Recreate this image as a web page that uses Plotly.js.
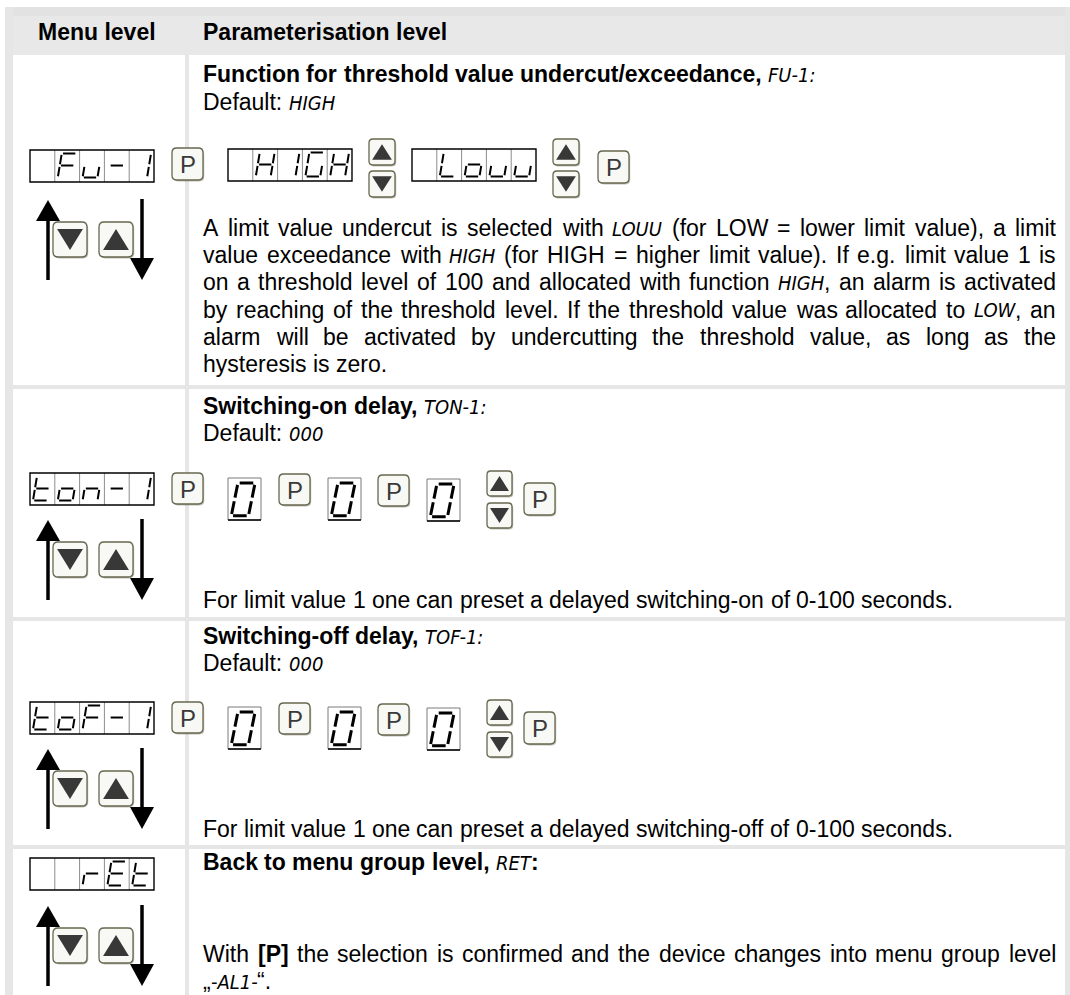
<!DOCTYPE html>
<html><head><meta charset="utf-8">
<script src="https://cdn.plot.ly/plotly-3.0.1.min.js"></script>
<style>html,body{margin:0;padding:0;background:#fff;overflow:hidden;} #chart{width:1070px;height:995px;}</style>
</head><body><div id="chart"></div>
<script>
// ---------------- content ----------------
const headerLabels = ['Menu level', 'Parameterisation level'];
const rowTitles = [
  '**Function for threshold value undercut/exceedance,** {FU-1:}',
  '**Switching-on delay,** {TON-1:}',
  '**Switching-off delay,** {TOF-1:}',
  '**Back to menu group level,** {RET}**:**'
];
const rowDefaults = ['Default: {HIGH}', 'Default: {000}', 'Default: {000}', null];
const menuDisplays = [
  [' ', 'F', 'u', '-', '1'],
  ['t', 'o', 'n', '-', '1'],
  ['t', 'o', 'F', '-', '1'],
  [' ', ' ', 'r', 'E', 't']
];
const row1ParamDisplays = [[' ', 'H', 'I', 'G', 'H'], [' ', 'L', 'o', 'u', 'u']];
const delayDigits = ['0', '0', '0'];
const row1Body = [
  'A limit value undercut is selected with {LOUU} (for LOW = lower limit value), a limit',
  'value exceedance with {HIGH} (for HIGH = higher limit value). If e.g. limit value 1 is',
  'on a threshold level of 100 and allocated with function {HIGH}, an alarm is activated',
  'by reaching of the threshold level. If the threshold value was allocated to {LOW}, an',
  'alarm will be activated by undercutting the threshold value, as long as the',
  'hysteresis is zero.'
];
const row2Body = ['For limit value 1 one can preset a delayed switching-on of 0-100 seconds.'];
const row3Body = ['For limit value 1 one can preset a delayed switching-off of 0-100 seconds.'];
const row4Body = [
  'With **[P]** the selection is confirmed and the device changes into menu group level',
  '„{-AL1-}“.'
];

// ---------------- styling / helpers ----------------
const REG_FAMILY = '"Liberation Sans", Arial, Helvetica, sans-serif';
const SEG_FAMILY = '"Liberation Sans Narrow", "DejaVu Sans Condensed", "Liberation Sans", sans-serif';
const FS = 23, SEG_FS = 20;
const TEXT_COLOR = '#000';
const GRAY = '#e6e6e6';
const shapes = [], annotations = [];
const ctx = document.createElement('canvas').getContext('2d');

function fontFor(style) {
  if (style === 'seg') return `italic ${SEG_FS}px ${SEG_FAMILY}`;
  if (style === 'bold') return `bold ${FS}px ${REG_FAMILY}`;
  return `${FS}px ${REG_FAMILY}`;
}
function measure(t, style) { ctx.font = fontFor(style); return ctx.measureText(t).width; }
function parseRuns(line) {
  const runs = []; const re = /\*\*(.+?)\*\*|\{(.+?)\}|([^*{]+)/g; let m;
  while ((m = re.exec(line))) {
    if (m[1] !== undefined) runs.push({s: 'bold', t: m[1]});
    else if (m[2] !== undefined) runs.push({s: 'seg', t: m[2]});
    else runs.push({s: 'reg', t: m[3]});
  }
  return runs;
}
function toWords(runs) {
  const words = []; let cur = [];
  runs.forEach(r => {
    r.t.split(' ').forEach((p, i) => {
      if (i > 0) { if (cur.length) words.push(cur); cur = []; }
      if (p.length) cur.push({s: r.s, t: p});
    });
  });
  if (cur.length) words.push(cur);
  return words;
}
function esc(t) { return t.replace(/&/g, '&amp;').replace(/</g, '&lt;').replace(/>/g, '&gt;'); }
function textAnn(p, x, y) {
  const seg = p.s === 'seg';
  annotations.push({
    x: x, y: seg ? y + 0.5 : y, xref: 'x', yref: 'y', xanchor: 'left', yanchor: 'middle',
    showarrow: false, borderpad: 0, borderwidth: 0,
    text: p.s === 'bold' ? '<b>' + esc(p.t) + '</b>' : seg ? '<i>' + esc(p.t) + '</i>' : esc(p.t),
    font: {family: seg ? SEG_FAMILY : REG_FAMILY, size: seg ? SEG_FS : FS, color: TEXT_COLOR}
  });
}
function placeLine(line, x0, y, justifyTo) {
  const words = toWords(parseRuns(line));
  const widths = words.map(w => w.reduce((a, p) => a + measure(p.t, p.s), 0));
  const total = widths.reduce((a, b) => a + b, 0);
  let gap = measure(' ', 'reg');
  if (justifyTo && words.length > 1) gap = (justifyTo - x0 - total) / (words.length - 1);
  let x = x0;
  words.forEach(w => {
    w.forEach(p => { textAnn(p, x, y); x += measure(p.t, p.s); });
    x += gap;
  });
}
function placeParagraph(lines, x0, y0, step, right) {
  lines.forEach((l, i) => placeLine(l, x0, y0 + i * step, i < lines.length - 1 ? right : null));
}
function f(n) { return n.toFixed(2); }
function rect(x0, y0, x1, y1, fill, lc, lw) {
  shapes.push({type: 'rect', xref: 'x', yref: 'y', x0, y0, x1, y1, fillcolor: fill || 'rgba(0,0,0,0)',
    line: {color: lc || 'rgba(0,0,0,0)', width: lw || 0}});
}
function seg(x0, y0, x1, y1, color, w) {
  shapes.push({type: 'line', xref: 'x', yref: 'y', x0, y0, x1, y1, line: {color, width: w}});
}
function path(d, fill, lc, lw) {
  shapes.push({type: 'path', xref: 'x', yref: 'y', path: d, fillcolor: fill || 'rgba(0,0,0,0)',
    line: {color: lc || 'rgba(0,0,0,0)', width: lw || 0}});
}
function rr(x, y, w, h, r) {
  return `M${f(x + r)},${f(y)} L${f(x + w - r)},${f(y)} Q${f(x + w)},${f(y)} ${f(x + w)},${f(y + r)} ` +
    `L${f(x + w)},${f(y + h - r)} Q${f(x + w)},${f(y + h)} ${f(x + w - r)},${f(y + h)} ` +
    `L${f(x + r)},${f(y + h)} Q${f(x)},${f(y + h)} ${f(x)},${f(y + h - r)} ` +
    `L${f(x)},${f(y + r)} Q${f(x)},${f(y)} ${f(x + r)},${f(y)} Z`;
}

// seven segment glyphs
const SEGMAP = {' ': '', 'F': 'afeg', 'u': 'cde', '-': 'g', '1': 'bc', 'H': 'bcefg', 'I': 'bc',
  'G': 'afedc', 'L': 'fed', 'o': 'cdeg', 't': 'defg', 'n': 'ceg', 'r': 'eg', 'E': 'adefg', '0': 'abcdef'};
const SMALL = {mx0: 0.12, mx1: 0.88, my0: 0.11, my1: 0.86, slant: 0.16, gap: 1.3, lw: 2};
const BIG = {mx0: 0.1, mx1: 0.82, my0: 0.12, my1: 0.9, slant: 0.2, gap: 1.8, lw: 3};
function glyph(cx, cy, cw, ch, c, g) {
  const segs = SEGMAP[c] || ''; if (!segs) return;
  const L = cx + g.mx0 * cw, R = cx + g.mx1 * cw, T = cy + g.my0 * ch, B = cy + g.my1 * ch, s = g.slant * cw;
  const P = (u, v) => [L + u * (R - L - s) + (1 - v) * s, T + v * (B - T)];
  const gu = g.gap / (R - L - s), gv = g.gap / (B - T);
  const def = {a: [[gu, 0], [1 - gu, 0]], b: [[1, gv], [1, 0.5 - gv]], c: [[1, 0.5 + gv], [1, 1 - gv]],
    d: [[gu, 1], [1 - gu, 1]], e: [[0, 0.5 + gv], [0, 1 - gv]], f: [[0, gv], [0, 0.5 - gv]], g: [[gu, 0.5], [1 - gu, 0.5]]};
  let d = '';
  for (const k of segs) {
    const A = P(...def[k][0]), Bq = P(...def[k][1]);
    d += `M${f(A[0])},${f(A[1])} L${f(Bq[0])},${f(Bq[1])} `;
  }
  path(d.trim(), null, '#000', g.lw);
}
function display5(x, y, chars) {
  const cw = 24.8, h = 32, w = cw * chars.length;
  rect(x, y, x + w, y + h, '#fff');
  for (let i = 1; i < chars.length; i++) seg(x + i * cw, y, x + i * cw, y + h, '#8c8c8c', 1);
  rect(x, y, x + w, y + h, null, '#000', 1.4);
  chars.forEach((c, i) => glyph(x + i * cw, y, cw, h, c, SMALL));
}
function bigDigit(x, y, c) {
  rect(x, y, x + 33, y + 42, '#fff', '#7a7a7a', 1);
  seg(x, y + 42, x + 33, y + 42, '#000', 1.3);
  glyph(x, y, 33, 42, c, BIG);
}
function button(x, y, w, h, kind) {
  const r = Math.min(w, h) * 0.15;
  path(rr(x + 1.2, y + 1.4, w, h, r), 'rgba(70,70,50,0.35)');
  path(rr(x, y, w, h, r), '#f8f8f4', '#67674f', 1.3);
  if (kind === 'P') {
    annotations.push({x: x + w / 2, y: y + h / 2 + 0.5, xref: 'x', yref: 'y', text: 'P', showarrow: false,
      xanchor: 'center', yanchor: 'middle', borderpad: 0, borderwidth: 0,
      font: {family: REG_FAMILY, size: 24, color: '#3a3a3a'}});
  } else if (kind === 'up') {
    path(`M${f(x + w / 2)},${f(y + 0.2 * h)} L${f(x + 0.88 * w)},${f(y + 0.8 * h)} L${f(x + 0.12 * w)},${f(y + 0.8 * h)} Z`, '#383838');
  } else {
    path(`M${f(x + 0.12 * w)},${f(y + 0.2 * h)} L${f(x + 0.88 * w)},${f(y + 0.2 * h)} L${f(x + w / 2)},${f(y + 0.8 * h)} Z`, '#383838');
  }
}
function updown(x, yUp, yDown, s) { button(x, yUp, s, s, 'up'); button(x, yDown, s, s, 'down'); }
function arrowGroup(T) {
  path(`M48,${T} L60,${T + 21} L36,${T + 21} Z`, '#000');
  seg(48, T + 19, 48, T + 80, '#000', 3.5);
  seg(142, T - 1, 142, T + 60, '#000', 3.5);
  path(`M130,${T + 58} L154,${T + 58} L142,${T + 80} Z`, '#000');
  button(53, T + 22, 34, 35, 'down');
  button(99, T + 22, 34, 35, 'up');
}

// ---------------- table frame ----------------
rect(5, 7, 1070, 16, '#e2e2e2');
rect(5, 16, 1070, 55, '#e8e8e8');
rect(5, 7, 13, 995, GRAY);
rect(1065, 7, 1070, 995, GRAY);
rect(185, 55, 189, 995, GRAY);
rect(5, 385, 1070, 389, GRAY);
rect(5, 617, 1070, 621, GRAY);
rect(5, 845, 1070, 849, GRAY);

// ---------------- header ----------------
annotations.push({x: 97, y: 32, xref: 'x', yref: 'y', xanchor: 'center', yanchor: 'middle', showarrow: false,
  borderpad: 0, borderwidth: 0, text: '<b>' + headerLabels[0] + '</b>', font: {family: REG_FAMILY, size: FS, color: TEXT_COLOR}});
placeLine('**' + headerLabels[1] + '**', 203, 32, null);

// ---------------- rows ----------------
const TX = 203, RIGHT = 1056, STEP = 27.2;
const titleY = [74, 406, 636, 862];
const defaultY = [102, 433, 663, null];
rowTitles.forEach((t, i) => placeLine(t, TX, titleY[i], null));
rowDefaults.forEach((t, i) => { if (t) placeLine(t, TX, defaultY[i], null); });

// row 1
display5(30, 150, menuDisplays[0]);
button(172, 148, 31, 32, 'P');
display5(228, 149, row1ParamDisplays[0]);
updown(369, 139, 171, 26);
display5(412, 149, row1ParamDisplays[1]);
updown(553, 139, 171, 26);
button(598, 151, 31, 32, 'P');
arrowGroup(200);
placeParagraph(row1Body, TX, 228, STEP, RIGHT);

// rows 2 and 3
[[473, menuDisplays[1], row2Body, 600], [702, menuDisplays[2], row3Body, 829]].forEach(([top, disp, body, by]) => {
  display5(30, top, disp);
  button(172, top, 31, 31, 'P');
  bigDigit(228, top + 5, delayDigits[0]);
  button(279, top + 1, 31, 31, 'P');
  bigDigit(328, top + 5, delayDigits[1]);
  button(378, top + 2, 31, 31, 'P');
  bigDigit(427, top + 6, delayDigits[2]);
  updown(487, top - 2, top + 30, 25);
  button(524, top + 10, 31, 32, 'P');
  arrowGroup(top + 47);
  placeParagraph(body, TX, by, STEP, RIGHT);
});

// row 4
display5(30, 858, menuDisplays[3]);
arrowGroup(906);
placeParagraph(row4Body, TX, 954, STEP, RIGHT);

Plotly.newPlot('chart', [{type: 'scatter', x: [], y: [], hoverinfo: 'skip', showlegend: false}], {
  width: 1070, height: 995, margin: {l: 0, r: 0, t: 0, b: 0, pad: 0},
  paper_bgcolor: '#fff', plot_bgcolor: '#fff', showlegend: false,
  xaxis: {range: [0, 1070], visible: false, fixedrange: true},
  yaxis: {range: [995, 0], visible: false, fixedrange: true},
  shapes: shapes, annotations: annotations
}, {staticPlot: true, displayModeBar: false});
</script>
</body></html>
